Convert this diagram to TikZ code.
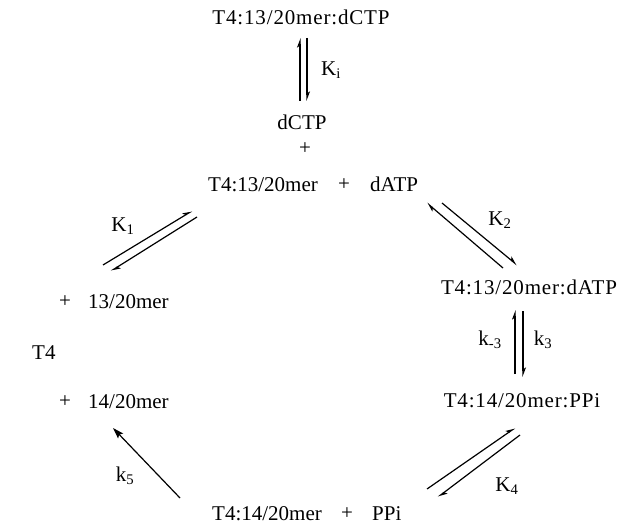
\documentclass[tikz,border=0pt]{standalone}
\usepackage{fontspec}
\setmainfont{Liberation Serif}
\newfontfamily\cplxfont[LetterSpace=4]{Liberation Serif}
\usetikzlibrary{arrows.meta}
\begin{document}
\begin{tikzpicture}[x=1pt,y=-1pt,
  lbl/.style={font=\fontsize{21}{25}\selectfont, inner sep=0pt, anchor=base},
  cplx/.style={inner sep=0pt, anchor=base, font=\fontsize{21}{25}\selectfont\cplxfont},
  plus/.style={font=\fontsize{21}{25}\selectfont, inner sep=0pt, anchor=center},
  rate/.style={font=\fontsize{21}{25}\selectfont, inner sep=0pt, anchor=center},
  half/.style={line width=1.2pt, -{Stealth[left, length=8pt, width=6pt, inset=2pt]}},
  full/.style={line width=1.2pt, -{Stealth[length=11pt, width=7pt, inset=2pt]}},
]
\useasboundingbox (0,0) rectangle (621,524);

% species
\node[cplx] (eic) at (301,25) {T4:13/20mer:dCTP};
\node[lbl] (dctp) at (302,130) {dCTP};
\node[plus] (pc) at (305,149) {+};
\node[lbl, anchor=base west] (ed) at (208,191) {T4:13/20mer};
\node[plus] (pa) at (344,185) {+};
\node[lbl, anchor=base west] (datp) at (370,191) {dATP};

\node[cplx] (eda) at (529,294) {T4:13/20mer:dATP};
\node[cplx] (edp) at (522,407) {T4:14/20mer:PPi};

\node[lbl, anchor=base west] (t4) at (32,359) {T4};
\node[plus] (pl13) at (65,302) {+};
\node[lbl, anchor=base west] (d13) at (88,308) {13/20mer};
\node[plus] (pl14) at (65,402) {+};
\node[lbl, anchor=base west] (d14) at (88,408) {14/20mer};

\node[lbl, anchor=base west] (ep) at (212,520) {T4:14/20mer};
\node[plus] (pb) at (347,514) {+};
\node[lbl, anchor=base west] (ppi) at (372,520) {PPi};

% arrow end points
\coordinate (ki1) at (300,101);  \coordinate (ki2) at (300,38);
\coordinate (ki3) at (307,38);   \coordinate (ki4) at (307,101);
\coordinate (a1s) at (103,265);  \coordinate (a1e) at (192,211);
\coordinate (b1s) at (197,217);  \coordinate (b1e) at (111,271);
\coordinate (a2s) at (503,268);  \coordinate (a2e) at (427,203);
\coordinate (b2s) at (442,203);  \coordinate (b2e) at (517,265);
\coordinate (a3s) at (515,374);  \coordinate (a3e) at (515,310);
\coordinate (b3s) at (523,311);  \coordinate (b3e) at (523,377);
\coordinate (a4s) at (427,489);  \coordinate (a4e) at (515,428);
\coordinate (b4s) at (520,435);  \coordinate (b4e) at (438,497);
\coordinate (a5s) at (180,498);  \coordinate (a5e) at (113,428);

% equilibria
\draw[half] (ki1) -- (ki2);
\draw[half] (ki3) -- (ki4);
\draw[half] (a1s) -- (a1e);
\draw[half] (b1s) -- (b1e);
\draw[half] (a2s) -- (a2e);
\draw[half] (b2s) -- (b2e);
\draw[half] (a3s) -- (a3e);
\draw[half] (b3s) -- (b3e);
\draw[half] (a4s) -- (a4e);
\draw[half] (b4s) -- (b4e);
\draw[full] (a5s) -- (a5e);

% rate and equilibrium constants
\node[rate] (Ki) at (331,70) {K\textsubscript{i}};
\node[rate] (K1) at (123,226) {K\textsubscript{1}};
\node[rate] (K2) at (500,220) {K\textsubscript{2}};
\node[rate] (km3) at (490,340) {k\textsubscript{-3}};
\node[rate] (k3) at (543,340) {k\textsubscript{3}};
\node[rate] (K4) at (507,486) {K\textsubscript{4}};
\node[rate] (k5) at (125,476) {k\textsubscript{5}};
\end{tikzpicture}
\end{document}
